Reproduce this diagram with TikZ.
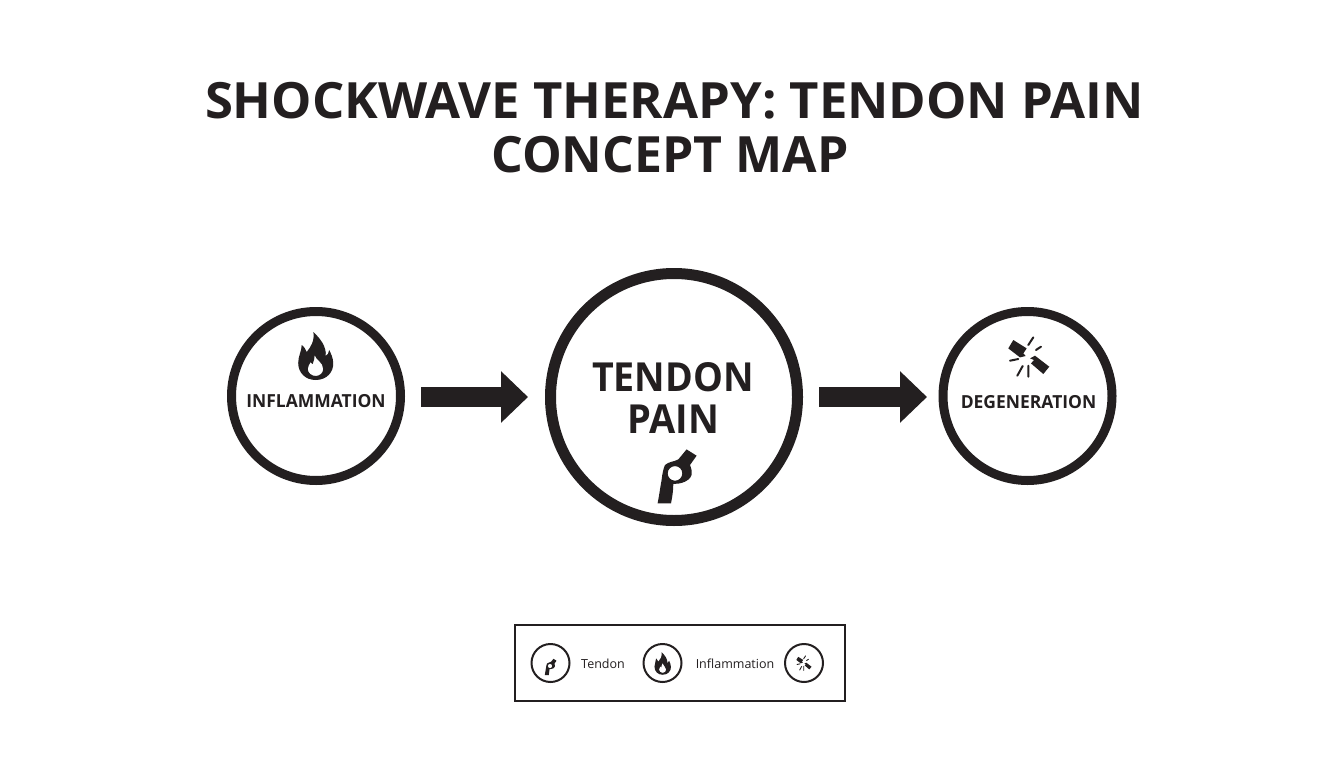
\documentclass[tikz,border=0pt]{standalone}
\usepackage{fontspec}
\usepackage{graphicx}
\setmainfont{Open Sans}
\usetikzlibrary{arrows.meta}
\definecolor{ink}{HTML}{231F20}
\newcommand{\fs}[1]{\fontsize{#1}{#1}\selectfont}
\tikzset{
  ring/.style={circle,draw=ink,fill=white,inner sep=0pt},
  bigring/.style={ring,line width=9pt,minimum size=169pt},
  hugering/.style={ring,line width=11pt,minimum size=247pt},
  smallring/.style={ring,line width=2pt,minimum size=38pt},
  txt/.style={text=ink,inner sep=0pt,anchor=base},
  bigarrow/.style={draw=ink,line width=19.5pt,-{Triangle[length=27pt,width=50pt]}},
  pics/flameicon/.style={code={
    \fill[ink,even odd rule]
      (0,24) .. controls (11,24) and (18,16) .. (17.5,7) .. controls (17.5,2) and (15,-3) .. (13.5,-6)
      .. controls (13,-3) and (12,-1) .. (10,0) .. controls (11,-9) and (5,-17) .. (-2.3,-24)
      .. controls (-1,-15) and (-5,-9) .. (-9,-4) .. controls (-10,-6) and (-11,-9) .. (-14,-11)
      .. controls (-14,-5) and (-17.5,0) .. (-17.5,7) .. controls (-17.5,17) and (-10,24) .. (0,24) -- cycle
      (-1,-1) .. controls (0,4) and (7.5,6) .. (7.5,13) .. controls (7.5,17) and (4,20) .. (0,20)
      .. controls (-4,20) and (-8,17) .. (-8,13) .. controls (-8,10) and (-6,8) .. (-5,6)
      .. controls (-4,7) and (-4,8) .. (-3,8) .. controls (-2,5) and (-1,2) .. (-1,-1) -- cycle;
  }},
  pics/tendonicon/.style={code={
    \fill[ink,even odd rule]
      (9.3,-27.3) -- (19.3,-21) -- (12.7,-11.7) .. controls (14,-8) and (15,-5) .. (14.3,-1.7)
      .. controls (13,2) and (10,4) .. (7.7,5) .. controls (3,7) and (0,7) .. (-4,7.3)
      .. controls (-4,14) and (-5,20) .. (-6.3,26.7) -- (-19.7,26.7) .. controls (-18,18) and (-17,10) .. (-15.7,3.3)
      .. controls (-15,-3) and (-14,-8) .. (-12.3,-11.7) .. controls (-9,-15) and (-3,-15) .. (1,-17.3) -- cycle
      (-2.3,-3.3) circle[radius=7.3];
  }},
  pics/breakicon/.style={code={
    \fill[ink] (-15.7,-16.7) -- (-2.3,-8.3) -- (-5.7,-3.3) -- (-3.3,-.7) -- (-9,.7) -- (-20.7,-8.3) -- cycle;
    \fill[ink] (6,-1) -- (20.3,10) -- (14.3,17.3) -- (2,6.7) -- (5,3.3) -- (1,1.7) -- cycle;
    \draw[ink,line width=#1,line cap=round]
      (4.3,-19.3) -- (-.7,-11.7) (12,-10) -- (7,-6.7) (-19,4) -- (-10.7,2.3)
      (-11.7,19) -- (-6.3,9.3) (-.7,20) -- (-.7,9);
  }}
}
\begin{document}
\begin{tikzpicture}[x=1pt,y=-1pt]
\useasboundingbox (0,0) rectangle (1344,768);
\fill[white] (0,0) rectangle (1344,768);
% title
\node[txt] (title1) at (674.5,118) {\fs{50}\bfseries\scalebox{1.016}[1]{SHOCKWAVE THERAPY: TENDON PAIN}};
\node[txt] (title2) at (670,172) {\fs{50}\bfseries CONCEPT MAP};
% main rings
\node[bigring] (inf) at (316,396) {};
\node[hugering] (pain) at (674,397) {};
\node[bigring] (deg) at (1027.5,396) {};
% connectors
\draw[bigarrow,shorten <=16pt,shorten >=17pt] (inf.east |- pain) -- (pain.west);
\draw[bigarrow,shorten <=16pt,shorten >=11.5pt] (pain.east) -- (deg.west |- pain);
% labels
\node[txt] (inflabel) at (316,407.5) {\fs{18}\bfseries\scalebox{.97}[1]{INFLAMMATION}};
\node[txt] (painlabel1) at (673,391.5) {\fs{40}\bfseries\scalebox{.94}[1]{TENDON}};
\node[txt] (painlabel2) at (673.5,433) {\fs{40}\bfseries\scalebox{.95}[1]{PAIN}};
\node[txt] (deglabel) at (1028.5,408) {\fs{18}\bfseries\scalebox{.97}[1]{DEGENERATION}};
% icons
\pic at (315.7,356) {flameicon};
\pic at (677.3,476.7) {tendonicon};
\pic at (1029,356.7) {breakicon=2pt};
% legend
\node[draw=ink,line width=1.7pt,minimum width=330pt,minimum height=76pt,inner sep=0pt] (legend) at (680.3,663) {};
\node[smallring] (lg1) at (550.5,663) {};
\node[smallring] (lg2) at (662.5,663) {};
\node[smallring] (lg3) at (804,663) {};
\pic[scale=.3] at (550.7,667) {tendonicon};
\pic[scale=.47] at (662.7,663.5) {flameicon};
\pic[scale=.37] at (804,663) {breakicon=.9pt};
\node[txt] (lgt1) at (603,668.5) {\fs{12.5}Tendon};
\node[txt] (lgt2) at (735,668.5) {\fs{12.5}Inflammation};
\end{tikzpicture}
\end{document}
